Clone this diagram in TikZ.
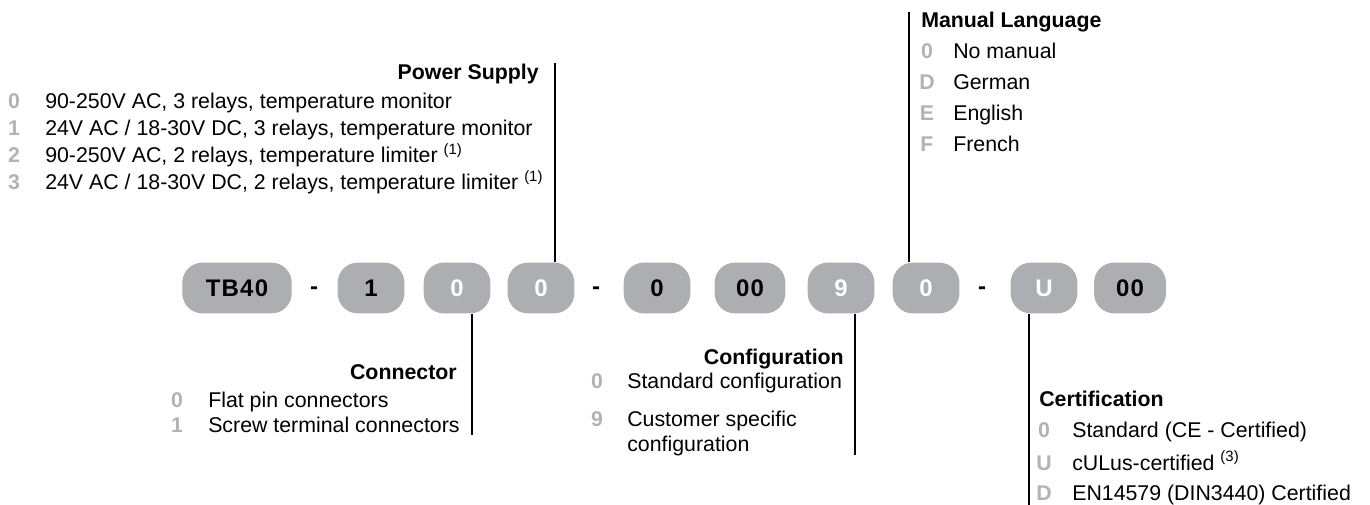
\documentclass[tikz,border=0pt]{standalone}
\usepackage{fontspec}
\setmainfont{Liberation Sans}
\newfontfamily\pillfont[LetterSpace=5]{Liberation Sans}
\usepackage{tikz}
\usetikzlibrary{positioning}
\definecolor{pillgray}{RGB}{173,174,178}
\definecolor{codegray}{RGB}{178,179,182}

\begin{document}
\begin{tikzpicture}[x=0.75pt, y=-0.75pt,
		pill/.style={fill=pillgray, rounded corners=15pt, minimum width=50pt, minimum height=38pt, inner sep=2pt, font=\pillfont\bfseries\fontsize{18}{20}\selectfont},
		pillw/.style={pill, text=white},
		sep/.style={inner sep=0pt, anchor=base, font=\bfseries\fontsize{18}{20}\selectfont},
		head/.style={inner sep=0pt, font=\bfseries\fontsize{16}{19}\selectfont},
		code/.style={inner sep=0pt, anchor=base, text=codegray, font=\bfseries\fontsize{16}{19}\selectfont},
		item/.style={inner sep=0pt, anchor=base west, align=left, font=\fontsize{16}{18.8}\selectfont},
		lead/.style={draw, line width=2pt}]
		\useasboundingbox (0,0) rectangle (1370,505);

		% order code
		\node[pill, minimum width=82pt] (pType) at (237,288) {TB40};
		\node[sep] (sepA) at (314,295) {-};
		\node[pill] (pRev) at (371,288) {1};
		\node[pillw] (pConn) at (457,288) {0};
		\node[pillw] (pPower) at (541,288) {0};
		\node[sep] (sepB) at (596,295) {-};
		\node[pill] (pX) at (657,288) {0};
		\node[pill, minimum width=53pt] (pXX) at (750,288) {00};
		\node[pillw] (pConf) at (841,288) {9};
		\node[pillw] (pLang) at (926,288) {0};
		\node[sep] (sepC) at (982,295) {-};
		\node[pillw] (pCert) at (1044,288) {U};
		\node[pill, minimum width=54pt] (pSpec) at (1130,288) {00};

		% power supply
		\coordinate (psTop) at (555,63);
		\path[lead] (psTop) -- (psTop |- pPower.north);
		\node[head, anchor=base east] (psHead) at (539,80) {Power Supply};
		\node[code] (ps0) at (14,109) {0};
		\node[code] (ps1) at (14,136) {1};
		\node[code] (ps2) at (14,163) {2};
		\node[code] (ps3) at (14,190) {3};
		\node[item] (ps0t) at (45,109) {90-250V AC, 3 relays, temperature monitor};
		\node[item] (ps1t) at (45,136) {24V AC / 18-30V DC, 3 relays, temperature monitor};
		\node[item] (ps2t) at (45,163) {90-250V AC, 2 relays, temperature limiter \textsuperscript{(1)}};
		\node[item] (ps3t) at (45,190) {24V AC / 18-30V DC, 2 relays, temperature limiter \textsuperscript{(1)}};

		% connector
		\coordinate (cnEnd) at (472,435);
		\path[lead] (cnEnd |- pConn.south) -- (cnEnd);
		\node[head, anchor=base east] (cnHead) at (457,380) {Connector};
		\node[code] (cn0) at (177,408) {0};
		\node[code] (cn1) at (177,433) {1};
		\node[item] (cn0t) at (208,408) {Flat pin connectors};
		\node[item] (cn1t) at (208,433) {Screw terminal connectors};

		% configuration
		\coordinate (cfEnd) at (855,455);
		\path[lead] (cfEnd |- pConf.south) -- (cfEnd);
		\node[head, anchor=base east] (cfHead) at (844,365) {Configuration};
		\node[code] (cf0) at (597,389) {0};
		\node[code] (cf9) at (597,427) {9};
		\node[item] (cf0t) at (627,389) {Standard configuration};
		\node[item] (cf9t) at (627,452) {Customer specific\\configuration};

		% manual language
		\coordinate (mlTop) at (909,12);
		\path[lead] (mlTop) -- (mlTop |- pLang.north);
		\node[head, anchor=base west] (mlHead) at (921,28) {Manual Language};
		\node[code] (ml0) at (927,59) {0};
		\node[code] (mlD) at (927,90) {D};
		\node[code] (mlE) at (927,121) {E};
		\node[code] (mlF) at (927,152) {F};
		\node[item] (ml0t) at (953,59) {No manual};
		\node[item] (mlDt) at (953,90) {German};
		\node[item] (mlEt) at (953,121) {English};
		\node[item] (mlFt) at (953,152) {French};

		% certification
		\coordinate (ceEnd) at (1029,505);
		\path[lead] (ceEnd |- pCert.south) -- (ceEnd);
		\node[head, anchor=base west] (ceHead) at (1039,407) {Certification};
		\node[code] (ce0) at (1044,438) {0};
		\node[code] (ceU) at (1044,470) {U};
		\node[code] (ceD) at (1044,500) {D};
		\node[item] (ce0t) at (1072,438) {Standard (CE - Certified)};
		\node[item] (ceUt) at (1072,470) {cULus-certified \textsuperscript{(3)}};
		\node[item] (ceDt) at (1072,500) {EN14579 (DIN3440) Certified};
\end{tikzpicture}
\end{document}
